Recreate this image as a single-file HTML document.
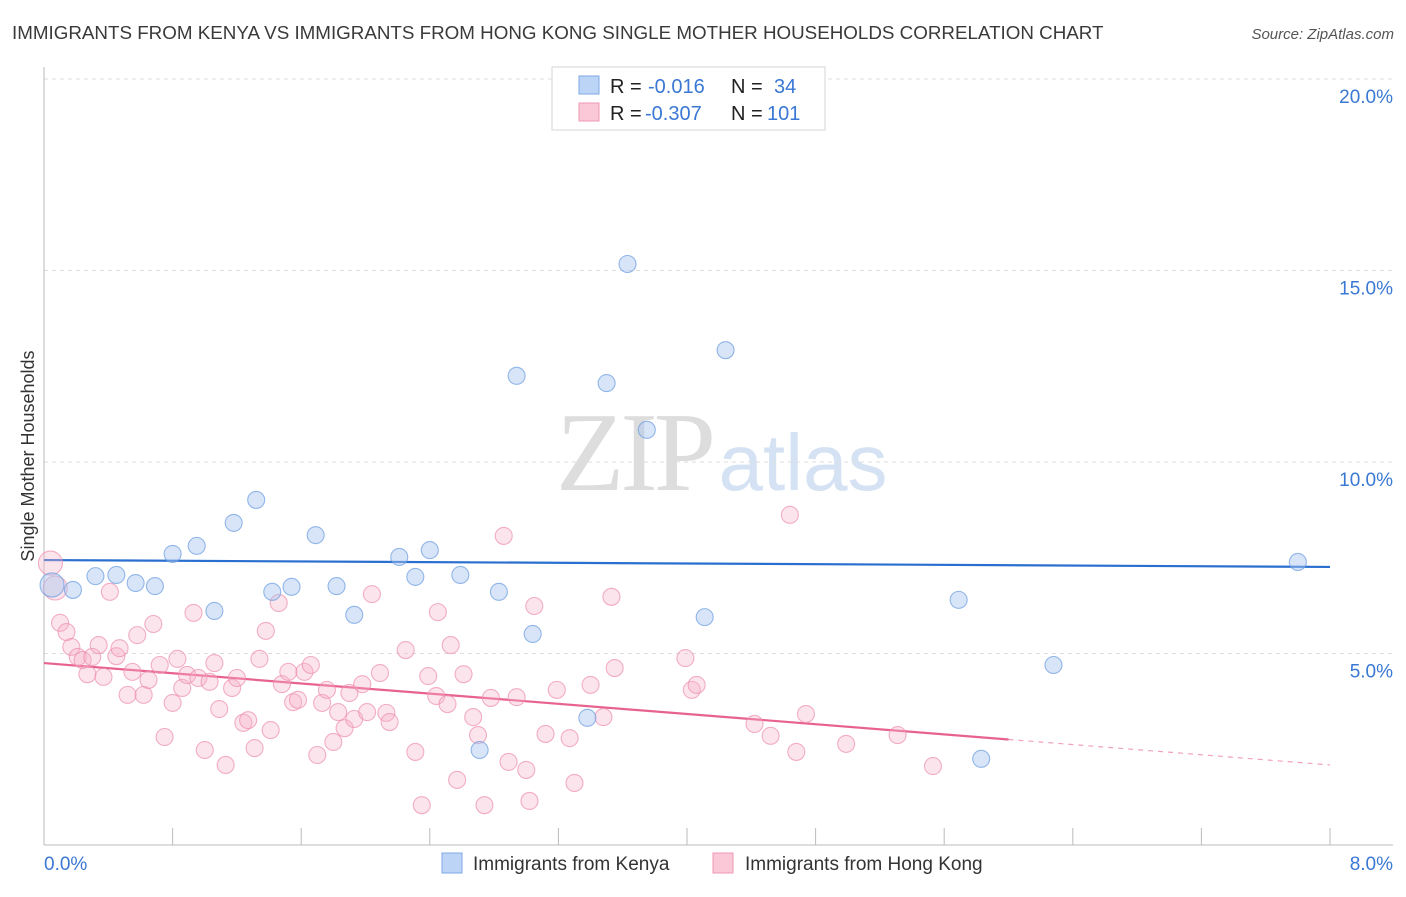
<!DOCTYPE html>
<html><head><meta charset="utf-8"><style>
body{margin:0;background:#fff;font-family:"Liberation Sans",sans-serif;}
</style></head><body>
<svg width="1406" height="892" xmlns="http://www.w3.org/2000/svg" id="svg" style="font-family:'Liberation Sans',sans-serif">
<text x="12" y="39" font-size="18.8" fill="#3a3a3a">IMMIGRANTS FROM KENYA VS IMMIGRANTS FROM HONG KONG SINGLE MOTHER HOUSEHOLDS CORRELATION CHART</text>
<text x="1394" y="39" font-size="15" fill="#555" text-anchor="end" font-style="italic">Source: ZipAtlas.com</text>
<g>
<text x="634" y="490" font-size="112" fill="#ddd" text-anchor="middle" font-family="Liberation Serif" letter-spacing="-4">ZIP</text>
<text x="803" y="490" font-size="80" fill="#d4e2f3" text-anchor="middle">atlas</text>
</g>
<g id="grid"></g>
<g id="axes"></g>
<g id="trend"></g>
<g id="points"></g>
<g>
<rect x="552" y="67" width="273" height="63" fill="#fff" stroke="#d5d5d5"/>
<rect x="579" y="76" width="20" height="18" fill="#bcd4f5" stroke="#7ea9e6"/>
<rect x="579" y="103" width="20" height="18" fill="#fac8d7" stroke="#f097b4"/>
<text x="610" y="93" font-size="20" fill="#222">R =</text>
<text x="648" y="93" font-size="20" fill="#3a78d4">-0.016</text>
<text x="731" y="93" font-size="20" fill="#222">N =</text>
<text x="774" y="93" font-size="20" fill="#3a78d4">34</text>
<text x="610" y="120" font-size="20" fill="#222">R =</text>
<text x="645" y="120" font-size="20" fill="#3a78d4">-0.307</text>
<text x="731" y="120" font-size="20" fill="#222">N =</text>
<text x="767" y="120" font-size="20" fill="#3a78d4">101</text>
</g>
<g>
<rect x="442" y="853" width="20" height="20" fill="#bcd4f5" stroke="#7ea9e6"/>
<text x="473" y="870" font-size="19" fill="#333">Immigrants from Kenya</text>
<rect x="713" y="853" width="20" height="20" fill="#fac8d7" stroke="#f097b4"/>
<text x="745" y="870" font-size="19" fill="#333">Immigrants from Hong Kong</text>
</g>
<text transform="translate(34,456) rotate(-90)" font-size="18" fill="#333" text-anchor="middle">Single Mother Households</text>
</svg>
<script>
const yTicks=[5,10,15,20];
const yTickLabels=["5.0%","10.0%","15.0%","20.0%"];
const xTicks=[0,0.8,1.6,2.4,3.2,4.0,4.8,5.6,6.4,7.2,8.0];
const kenyaX=[0.05,0.18,0.32,0.45,0.57,0.69,0.80,0.95,1.06,1.18,1.32,1.42,1.54,1.69,1.82,1.93,2.21,2.31,2.40,2.59,2.83,2.94,3.04,3.38,2.71,3.50,3.63,3.75,4.11,4.24,5.69,5.83,6.28,7.80];
const kenyaY=[6.79,6.66,7.02,7.05,6.84,6.76,7.60,7.81,6.11,8.41,9.01,6.61,6.74,8.09,6.76,6.01,7.52,7.00,7.70,7.05,6.61,12.25,5.51,3.32,2.48,12.06,15.17,10.84,5.95,12.92,6.40,2.25,4.70,7.39];
const hkX=[0.04,0.07,0.10,0.14,0.17,0.21,0.24,0.27,0.30,0.34,0.37,0.41,0.45,0.47,0.52,0.55,0.58,0.62,0.65,0.68,0.72,0.75,0.80,0.83,0.86,0.89,0.93,0.96,1.00,1.03,1.06,1.09,1.13,1.17,1.20,1.24,1.27,1.31,1.34,1.38,1.41,1.46,1.48,1.52,1.55,1.58,1.62,1.66,1.70,1.73,1.76,1.80,1.83,1.87,1.90,1.93,1.98,2.01,2.04,2.09,2.13,2.15,2.25,2.31,2.35,2.39,2.44,2.45,2.51,2.53,2.57,2.61,2.67,2.70,2.74,2.78,2.86,2.89,2.94,3.00,3.02,3.05,3.12,3.19,3.27,3.30,3.40,3.48,3.53,3.55,3.99,4.03,4.06,4.42,4.52,4.64,4.68,4.74,4.99,5.31,5.53];
const hkY=[7.36,6.71,5.80,5.56,5.17,4.91,4.83,4.46,4.91,5.22,4.39,6.61,4.93,5.14,3.92,4.52,5.48,3.92,4.31,5.77,4.70,2.82,3.71,4.86,4.10,4.44,6.06,4.36,2.48,4.26,4.75,3.55,2.09,4.10,4.36,3.19,3.26,2.53,4.86,5.59,3.00,6.32,4.20,4.52,3.73,3.79,4.52,4.70,2.35,3.71,4.05,2.69,3.47,3.05,3.97,3.29,4.20,3.47,6.55,4.49,3.45,3.21,5.09,2.43,1.04,4.41,3.89,6.08,3.68,5.22,1.70,4.46,3.34,2.87,1.04,3.84,8.07,2.17,3.86,1.96,1.15,6.24,2.90,4.05,2.79,1.62,4.18,3.34,6.48,4.62,4.88,4.05,4.18,3.16,2.85,8.62,2.43,3.42,2.64,2.87,2.06];
const kenyaTrend=[7.44,7.26];
const hkTrend=[4.75,2.09];
const hkSolidEnd=6.0;
const NS="http://www.w3.org/2000/svg";
const X=v=>44+v*160.75, Y=v=>845-v*38.3;
function mk(t,a,p){const e=document.createElementNS(NS,t);for(const k in a)e.setAttribute(k,a[k]);p.appendChild(e);return e;}
const grid=document.getElementById('grid'),axes=document.getElementById('axes'),tr=document.getElementById('trend'),pts=document.getElementById('points');
yTicks.forEach((t,i)=>{const l=mk('line',{x1:44,x2:1393,y1:Y(t),y2:Y(t),stroke:'#ddd','stroke-dasharray':'4,4'},grid);


const tx=mk('text',{x:1393,y:Y(t)+24,'font-size':19,fill:'#3a78d4','text-anchor':'end'},axes);tx.textContent=yTickLabels[i];

});
const ya=mk('line',{x1:44,x2:44,y1:67,y2:845,stroke:'#bbb'},axes);


const xa=mk('line',{x1:44,x2:1393,y1:845,y2:845,stroke:'#bbb'},axes);


xTicks.forEach(t=>{const l=mk('line',{x1:X(t),x2:X(t),y1:828,y2:845,stroke:'#bbb'},axes);

});
const x0=mk('text',{x:44,y:870,'font-size':19,fill:'#3a78d4'},axes);x0.textContent='0.0%';


const x8=mk('text',{x:1393,y:870,'font-size':19,fill:'#3a78d4','text-anchor':'end'},axes);x8.textContent='8.0%';


function draw(xs,ys,fill,stroke,op,name,bigIdx){xs.forEach((v,i)=>{const c=mk('circle',{cx:X(v),cy:Y(ys[i]),r:bigIdx.includes(i)?12:8.5,fill:fill,'fill-opacity':op,stroke:stroke,'stroke-width':1.1,'stroke-opacity':0.7},pts);

});}
draw(hkX,hkY,'#f7b3c8','#ec8fae',0.35,'point-hongkong',[0,1]);
draw(kenyaX,kenyaY,'#a9c6ef','#6a9be0',0.45,'point-kenya',[0]);
const kt=mk('line',{x1:X(0),x2:X(8),y1:Y(kenyaTrend[0]),y2:Y(kenyaTrend[1]),stroke:'#2a6fcf','stroke-width':2.2},tr);


const hy=x=>hkTrend[0]+(hkTrend[1]-hkTrend[0])*x/8;
const ht=mk('line',{x1:X(0),x2:X(hkSolidEnd),y1:Y(hy(0)),y2:Y(hy(hkSolidEnd)),stroke:'#e8628f','stroke-width':2.2},tr);


const hd=mk('line',{x1:X(hkSolidEnd),x2:X(8),y1:Y(hy(hkSolidEnd)),y2:Y(hy(8)),stroke:'#e8628f','stroke-width':1.2,'stroke-dasharray':'5,5','stroke-opacity':0.6},tr);


</script>
</body></html>
